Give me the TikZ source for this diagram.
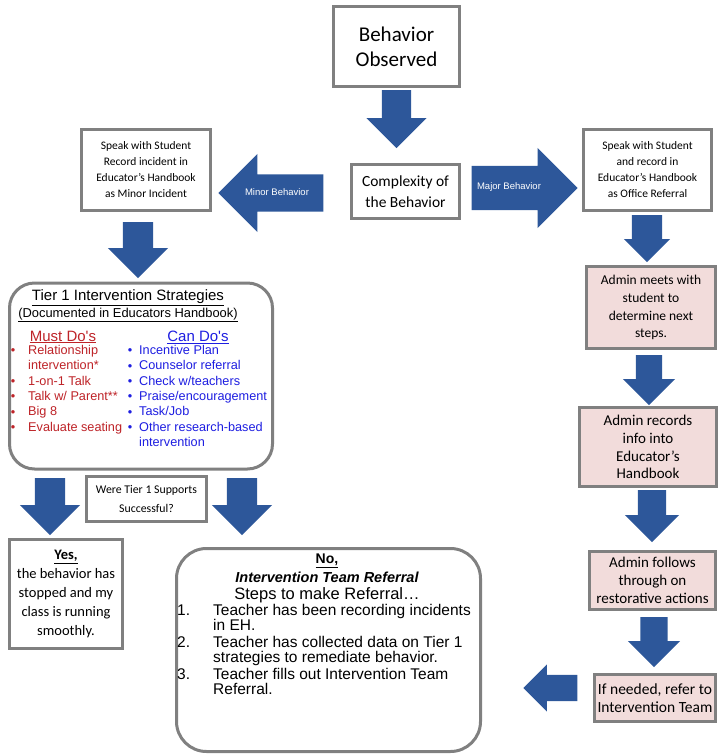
\documentclass[tikz,border=0pt]{standalone}
\usepackage{fontspec}
\setmainfont{Carlito}
\newfontfamily\arialfont{Liberation Sans}
\usepackage{tikz}
\usetikzlibrary{shapes.arrows}
\usepackage{xcolor}
\definecolor{arrowblue}{RGB}{45,87,154}
\definecolor{boxgray}{RGB}{128,128,128}
\definecolor{boxpink}{RGB}{242,220,219}
\definecolor{mustred}{RGB}{190,35,40}
\definecolor{canblue}{RGB}{30,30,225}
\tikzset{
    box/.style={draw=boxgray, line width=2.5pt, fill=white, align=center, inner sep=0pt},
    pinkbox/.style={box, fill=boxpink, font=\fontsize{15}{17.8}\selectfont},
    roundbox/.style={draw=boxgray, line width=3pt, fill=white, rounded corners=#1, inner sep=0pt},
    blockarrow/.style n args={3}{single arrow, fill=arrowblue, inner xsep=0pt, inner ysep=#2,
        text height=0pt, text depth=0pt, minimum height=#1, single arrow head extend=#3},
    arrowtext/.style={text=white, font=\arialfont\fontsize{9.5}{11}\selectfont},
    listtext/.style={anchor=west, inner sep=0pt, text height=0.72em, text depth=0.2em}
}

\begin{document}
\begin{tikzpicture}[x=1pt, y=-1pt]
    \useasboundingbox (0,0) rectangle (722,756);
    % Top
    \node[box, line width=3pt, minimum width=126pt, minimum height=80pt, font=\fontsize{21}{25}\selectfont] (obs) at (396.5,46.5) {Behavior\\Observed};
    \node[box, minimum width=108pt, minimum height=54pt, font=\fontsize{15.5}{21}\selectfont] (cplx) at (405.5,191.5) {Complexity of\\the Behavior};
    \node[box, minimum width=129pt, minimum height=81pt, font=\fontsize{11.5}{16}\selectfont] (minor) at (146,170) {Speak with Student\\Record incident in\\Educator's Handbook\\as Minor Incident};
    \node[box, minimum width=128pt, minimum height=81pt, font=\fontsize{11.5}{16}\selectfont] (major) at (647.5,170) {Speak with Student\\and record in\\Educator's Handbook\\as Office Referral};
    % Admin column
    \node[pinkbox, minimum width=129pt, minimum height=82pt, font=\fontsize{13.5}{17.8}\selectfont] (meets) at (651,307.5) {Admin meets with\\student to\\determine next\\steps.};
    \node[pinkbox, minimum width=137pt, minimum height=79pt] (records) at (648,447) {Admin records\\info into\\Educator's\\Handbook};
    \node[pinkbox, minimum width=126pt, minimum height=58pt] (follows) at (652.5,580.5) {Admin follows\\through on\\restorative actions};
    \node[pinkbox, minimum width=121pt, minimum height=47pt, font=\fontsize{15.5}{18}\selectfont] (refer) at (655,698) {If needed, refer to\\Intervention Team};
    % Tier 1
    \node[roundbox=25pt, minimum width=263pt, minimum height=186pt] (tier) at (141,376) {};
    \node[font=\arialfont\fontsize{15}{17}\selectfont, inner sep=0pt] (tiertitle) at (128,298) {\underline{Tier 1 Intervention Strategies}};
    \node[font=\arialfont\fontsize{12.9}{15}\selectfont, inner sep=0pt] (tiersub) at (128,315) {\underline{(Documented in Educators Handbook)}};
    \node[font=\arialfont\fontsize{15}{17}\selectfont, text=mustred, inner sep=0pt] (musthead) at (63,337) {\underline{Must Do's}};
    \node[font=\arialfont\fontsize{15}{17}\selectfont, text=canblue, inner sep=0pt] (canhead) at (198,337) {\underline{Can Do's}};
    \foreach \txt [count=\i] in {Relationship, intervention*, 1-on-1 Talk, Talk w/ Parent**, Big 8, Evaluate seating}
        \node[listtext, text=mustred, font=\arialfont\fontsize{12.7}{15}\selectfont] (must\i) at (28,{352+15.3*(\i-1)}) {\txt};
    \foreach \txt [count=\i] in {Incentive Plan, Counselor referral, Check w/teachers, Praise/encouragement, Task/Job, Other research-based, intervention}
        \node[listtext, text=canblue, font=\arialfont\fontsize{12.7}{15}\selectfont] (can\i) at (139,{352+15.3*(\i-1)}) {\txt};
    \foreach \i in {1,3,4,5,6}
        \node[text=mustred, font=\arialfont\fontsize{12.7}{15}\selectfont, inner sep=0pt] at (13,{352+15.3*(\i-1)}) {•};
    \foreach \i in {1,...,6}
        \node[text=canblue, font=\arialfont\fontsize{12.7}{15}\selectfont, inner sep=0pt] at (130,{352+15.3*(\i-1)}) {•};
    \node[box, minimum width=120pt, minimum height=45pt, font=\fontsize{11.8}{19}\selectfont] (were) at (146.5,499) {Were Tier 1 Supports\\Successful?};
    % Outcomes
    \node[box, minimum width=113pt, minimum height=109pt, font=\fontsize{14.5}{19}\selectfont] (yes) at (66,594) {\textbf{\underline{Yes,}}\\the behavior has\\stopped and my\\class is running\\smoothly.};
    \node[roundbox=30pt, minimum width=304pt, minimum height=203pt] (no) at (328.5,650) {};
    \node[font=\arialfont\bfseries\fontsize{14}{16}\selectfont, inner sep=0pt] (nohead) at (327,561) {\underline{No,}};
    \node[font=\arialfont\bfseries\itshape\fontsize{14.5}{16}\selectfont, inner sep=0pt] (notitle) at (327,577) {Intervention Team Referral};
    \node[font=\arialfont\fontsize{16.5}{18}\selectfont, inner sep=0pt] (nosteps) at (327,595) {Steps to make Referral…};
    \foreach \yy/\n in {613/1., 645/2., 677/3.}
        \node[listtext, font=\arialfont\fontsize{15.5}{16}\selectfont] at (177,\yy) {\n};
    \foreach \yy/\txt in {613/Teacher has been recording incidents, 628/in EH., 645/Teacher has collected data on Tier 1,
        660/strategies to remediate behavior., 677/Teacher fills out Intervention Team, 692/Referral.}
        \node[listtext, font=\arialfont\fontsize{15.5}{16}\selectfont] at (213,\yy) {\txt};
    % Arrows
    \node[blockarrow={58pt}{14.5pt}{15.5pt}, rotate=-90, anchor=tail] (a1) at (396.5,90) {};
    \node[blockarrow={105pt}{18.5pt}{20.5pt}, rotate=180, anchor=tip] (a2) at (218,193) {};
    \node[arrowtext] at (277,192) {Minor Behavior};
    \node[blockarrow={106pt}{22pt}{18pt}, anchor=tip] (a3) at (578,188) {};
    \node[arrowtext] at (509,187) {Major Behavior};
    \node[blockarrow={47pt}{15pt}{8pt}, rotate=-90, anchor=tail] (a4) at (647,215) {};
    \node[blockarrow={50pt}{13pt}{13pt}, rotate=-90, anchor=tail] (a5) at (649,355) {};
    \node[blockarrow={52pt}{14pt}{13pt}, rotate=-90, anchor=tail] (a6) at (652,490) {};
    \node[blockarrow={50pt}{13.5pt}{12.5pt}, rotate=-90, anchor=tail] (a7) at (654,617) {};
    \node[blockarrow={54pt}{13pt}{10.5pt}, rotate=180, anchor=tip] (a8) at (523,688) {};
    \node[blockarrow={56pt}{15pt}{15pt}, rotate=-90, anchor=tail] (a9) at (138,222) {};
    \node[blockarrow={57pt}{15pt}{15pt}, rotate=-90, anchor=tail] (a10) at (50,478) {};
    \node[blockarrow={57pt}{15pt}{15pt}, rotate=-90, anchor=tail] (a11) at (242,478) {};
\end{tikzpicture}
\end{document}
